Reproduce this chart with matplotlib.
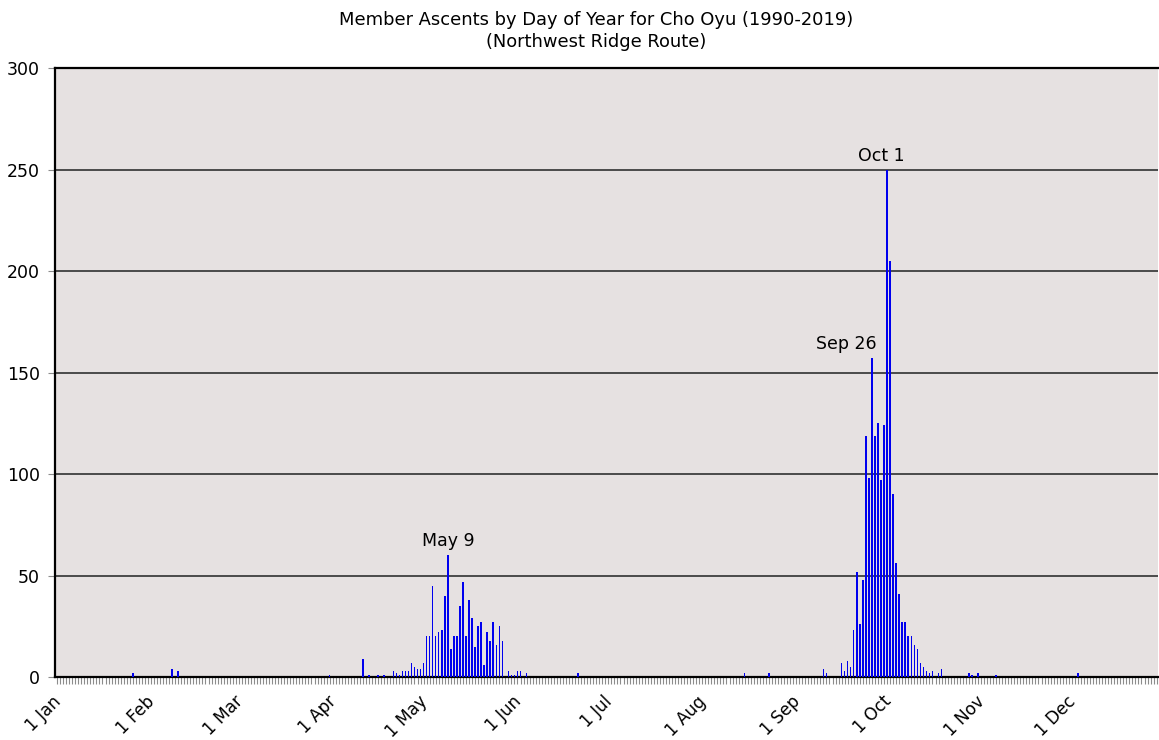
import numpy as np
import pandas as pd
import matplotlib
matplotlib.use('Agg')
import matplotlib.pyplot as plt
from matplotlib.transforms import ScaledTranslation

# member ascents per calendar day, summed over 1990-2019
ascent_dates = ['01-26', '02-08', '02-10', '03-31',
                '04-11', '04-13', '04-16', '04-18', '04-21', '04-22', '04-23', '04-24',
                '04-25', '04-26', '04-27', '04-28', '04-29', '04-30',
                '05-01', '05-02', '05-03', '05-04', '05-05', '05-06', '05-07', '05-08',
                '05-09', '05-10', '05-11', '05-12', '05-13', '05-14', '05-15', '05-16',
                '05-17', '05-18', '05-19', '05-20', '05-21', '05-22', '05-23', '05-24',
                '05-25', '05-26', '05-27', '05-29', '05-30', '05-31',
                '06-01', '06-02', '06-04', '06-21', '08-15', '08-23',
                '09-10', '09-11', '09-16', '09-17', '09-18', '09-19', '09-20', '09-21',
                '09-22', '09-23', '09-24', '09-25', '09-26', '09-27', '09-28', '09-29',
                '09-30', '10-01', '10-02', '10-03', '10-04', '10-05', '10-06', '10-07',
                '10-08', '10-09', '10-10', '10-11', '10-12', '10-13', '10-14', '10-15',
                '10-16', '10-18', '10-19', '10-28', '10-29', '10-31', '11-06', '12-03']
ascent_counts = [2, 4, 3, 1,
                 9, 1, 1, 1, 3, 2, 1, 3,
                 3, 3, 7, 5, 4, 4,
                 7, 20, 20, 45, 20, 22, 23, 40,
                 60, 14, 20, 20, 35, 47, 20, 38,
                 29, 15, 25, 27, 6, 22, 18, 27,
                 16, 25, 18, 3, 1, 1,
                 3, 3, 2, 2, 2, 2,
                 4, 2, 7, 3, 8, 5, 23, 52,
                 26, 48, 119, 98, 157, 119, 125, 97,
                 124, 250, 205, 90, 56, 41, 27, 27,
                 20, 20, 16, 14, 7, 5, 3, 2,
                 3, 2, 4, 2, 1, 2, 1, 2]

month_labels = ['1 Jan', '1 Feb', '1 Mar', '1 Apr', '1 May', '1 Jun',
                '1 Jul', '1 Aug', '1 Sep', '1 Oct', '1 Nov', '1 Dec']
peak_labels = ['May 9', 'Sep 26', 'Oct 1']

# day index in a leap year, 0 = 1 Jan
day_idx = pd.to_datetime(['2020-' + d for d in ascent_dates]).dayofyear.to_numpy() - 1
month_idx = pd.date_range('2020-01-01', periods=12, freq='MS').dayofyear.to_numpy() - 1

fig = plt.figure(figsize=(11.59, 7.40), dpi=100)
ax = fig.add_axes([0.0475, 0.085, 0.9515, 0.823])
ax.set_facecolor('#e6e1e1')

ax.bar(day_idx, ascent_counts, width=0.5, color='#0000ee', linewidth=0,
       edgecolor='none', zorder=3)

ax.set_xlim(-0.66, 363.4)
ax.set_ylim(0, 300)
ax.set_yticks(np.arange(0, 301, 50))
ax.yaxis.grid(True, color='#4a4a4a', linewidth=1.4, zorder=1)
ax.set_axisbelow(True)

ax.set_xticks(month_idx)
ax.set_xticklabels(month_labels, rotation=45, ha='right', rotation_mode='anchor')
ax.set_xticks(np.arange(0, 364), minor=True)
ax.tick_params(axis='x', which='both', length=5, width=0.8, color='#8c8c8c',
               labelsize=12.2, pad=6)
ax.tick_params(axis='y', length=5, width=0.8, color='#8c8c8c', labelsize=12.5, pad=6)

# nudge the slanted month labels a little to the left
shift = ScaledTranslation(-5 / 100, 0, fig.dpi_scale_trans)
for t in ax.get_xticklabels():
    t.set_transform(t.get_transform() + shift)

for s in ['left', 'bottom', 'top']:
    ax.spines[s].set_linewidth(1.6)
    ax.spines[s].set_color('black')
ax.spines['right'].set_visible(False)

# label the busiest days
counts = dict(zip(ascent_dates, ascent_counts))
for lab, key, dx in zip(peak_labels, ['05-09', '09-26', '10-01'], [1, -26, -6]):
    d = pd.Timestamp('2020-' + key).dayofyear - 1
    ax.annotate(lab, xy=(d, counts[key]), xytext=(dx, 5), textcoords='offset pixels',
                ha='center', va='bottom', fontsize=12.5)

fig.suptitle('Member Ascents by Day of Year for Cho Oyu (1990-2019)\n(Northwest Ridge Route)',
             x=0.5145, y=0.985, fontsize=12.9, linespacing=1.3)

fig.savefig('out.png', dpi=100)
